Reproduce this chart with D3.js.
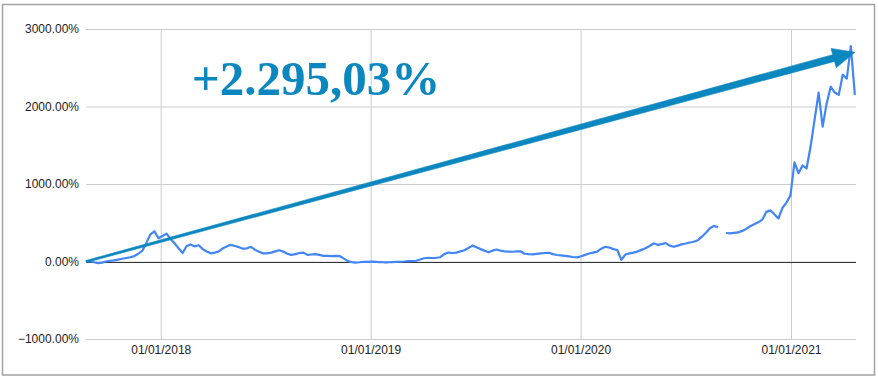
<!DOCTYPE html>
<html>
<head>
<meta charset="utf-8">
<script src="https://cdn.jsdelivr.net/npm/d3@7"></script>
<style>
  html, body { margin: 0; padding: 0; background: #fff; }
  svg { display: block; }
</style>
</head>
<body>
<svg id="chart" width="878" height="380"></svg>
<script>
// ---- data ----
const startDate = "2017-08-24";   // first weekly observation
const stepDays = 7;               // weekly observations
const returnsPct = [
  0, 5, -10, -20, -15, 0, 10, 15, 25, 35,
  45, 55, 70, 100, 140, 240, 350, 390, 300, 330,
  360, 290, 235, 170, 110, 200, 220, 195, 210, 160,
  130, 105, 115, 130, 170, 195, 215, 200, 185, 165,
  170, 190, 150, 125, 105, 105, 115, 130, 145, 128,
  100, 85, 95, 110, 115, 85, 90, 95, 85, 72,
  72, 70, 72, 70, 40, 5, -8, -15, -10, -3,
  -5, -2, -5, -8, -10, -10, -8, -5, -3, 0,
  5, 5, 10, 25, 42, 48, 45, 48, 55, 95,
  115, 110, 115, 130, 145, 175, 205, 185, 160, 140,
  118, 140, 155, 140, 130, 128, 126, 130, 130, 100,
  95, 92, 98, 105, 110, 113, 95, 84, 78, 72,
  65, 58, 54, 68, 85, 103, 115, 128, 165, 190,
  180, 160, 148, 20, 90, 105, 115, 128, 150, 170,
  200, 235, 215, 225, 238, 205, 190, 205, 222, 232,
  245, 255, 275, 320, 370, 430, 460, 442, null, 368,
  362, 370, 375, 395, 420, 455, 480, 505, 540, 640,
  660, 610, 555, 690, 760, 850, 1280, 1140, 1240, 1200,
  1480, 1830, 2180, 1740, 2040, 2256, 2180, 2150, 2410, 2360,
  2780, 2150
];
const yTicks = [-1000, 0, 1000, 2000, 3000];
const xTickDates = ["2018-01-01", "2019-01-01", "2020-01-01", "2021-01-01"];
const xDomain = ["2017-08-24", "2021-04-24"];
const arrowFrom = { date: "2017-08-24", value: 0 };
const arrowTo = { date: "2021-04-22", value: 2700 };
const labelText = "+2.295,03%";
const labelAt = { date: "2018-02-24", value: 2150 };

// ---- setup ----
const parse = d3.utcParse("%Y-%m-%d");
const fmtX = d3.utcFormat("%d/%m/%Y");
const t0 = parse(startDate);
const series = returnsPct.map((v, i) => ({ date: d3.utcDay.offset(t0, i * stepDays), value: v }));

const svg = d3.select("#chart");
const plot = { left: 86, right: 856, top: 29, bottom: 339 };

const x = d3.scaleUtc().domain(xDomain.map(parse)).range([plot.left, plot.right]);
const y = d3.scaleLinear().domain([-1000, 3000]).range([plot.bottom, plot.top]);

// outer border
svg.append("rect")
  .attr("x", 2.5).attr("y", 4.5).attr("width", 872).attr("height", 370.5)
  .attr("fill", "#fff").attr("stroke", "#a3a3a3").attr("stroke-width", 1.5);

// horizontal gridlines + y labels
const yAxis = d3.axisLeft(y).tickValues(yTicks).tickSize(-(plot.right - plot.left))
  .tickFormat(d => d3.format(".2f")(d) + "%").tickPadding(7);
const gy = svg.append("g").attr("transform", `translate(${plot.left},0)`).call(yAxis);
gy.select(".domain").remove();
gy.selectAll(".tick line").attr("stroke", "#cccccc").attr("stroke-width", 1);
gy.selectAll(".tick text")
  .attr("fill", "#222").style("font-family", "Arial, 'Liberation Sans', sans-serif").style("font-size", "12px");

// vertical gridlines + x labels
const xAxis = d3.axisBottom(x).tickValues(xTickDates.map(parse)).tickSize(-(plot.bottom - plot.top))
  .tickFormat(fmtX).tickPadding(6);
const gx = svg.append("g").attr("transform", `translate(0,${plot.bottom})`).call(xAxis);
gx.select(".domain").remove();
gx.selectAll(".tick line").attr("stroke", "#cccccc").attr("stroke-width", 1);
gx.selectAll(".tick text")
  .attr("fill", "#222").style("font-family", "Arial, 'Liberation Sans', sans-serif").style("font-size", "12px");

// zero baseline
svg.append("line")
  .attr("x1", plot.left).attr("x2", plot.right)
  .attr("y1", Math.round(y(0)) + 0.5).attr("y2", Math.round(y(0)) + 0.5)
  .attr("stroke", "#333").attr("stroke-width", 1);

// series line
const line = d3.line()
  .defined(d => d.value !== null)
  .x(d => x(d.date)).y(d => y(d.value));
svg.append("path").datum(series)
  .attr("fill", "none").attr("stroke", "#4285f4").attr("stroke-width", 2.2)
  .attr("stroke-linejoin", "round").attr("d", line);

// arrow annotation (tapered shaft + head)
const ax0 = x(parse(arrowFrom.date)), ay0 = y(arrowFrom.value);
const ax1 = x(parse(arrowTo.date)), ay1 = y(arrowTo.value);
const dx = ax1 - ax0, dy = ay1 - ay0, len = Math.hypot(dx, dy);
const ux = dx / len, uy = dy / len, nx = -uy, ny = ux;
const headLen = 22, headHalf = 10, w0 = 1.0, w1 = 3.5;
const bx = ax1 - ux * headLen, by = ay1 - uy * headLen;
const pts = [
  [ax0 + nx * w0, ay0 + ny * w0],
  [bx + nx * w1, by + ny * w1],
  [bx + nx * headHalf, by + ny * headHalf],
  [ax1, ay1],
  [bx - nx * headHalf, by - ny * headHalf],
  [bx - nx * w1, by - ny * w1],
  [ax0 - nx * w0, ay0 - ny * w0]
];
svg.append("path")
  .attr("d", "M" + pts.map(p => p.join(",")).join("L") + "Z")
  .attr("fill", "#0b87c0").attr("stroke", "#0b87c0").attr("stroke-width", 0.6)
  .attr("stroke-linejoin", "round");

// big label
svg.append("text")
  .attr("x", x(parse(labelAt.date))).attr("y", y(labelAt.value))
  .attr("fill", "#0b87c0")
  .style("font-family", "'Times New Roman', 'Liberation Serif', serif")
  .style("font-weight", "bold").style("font-size", "49px")
  .text(labelText);
</script>
</body>
</html>
